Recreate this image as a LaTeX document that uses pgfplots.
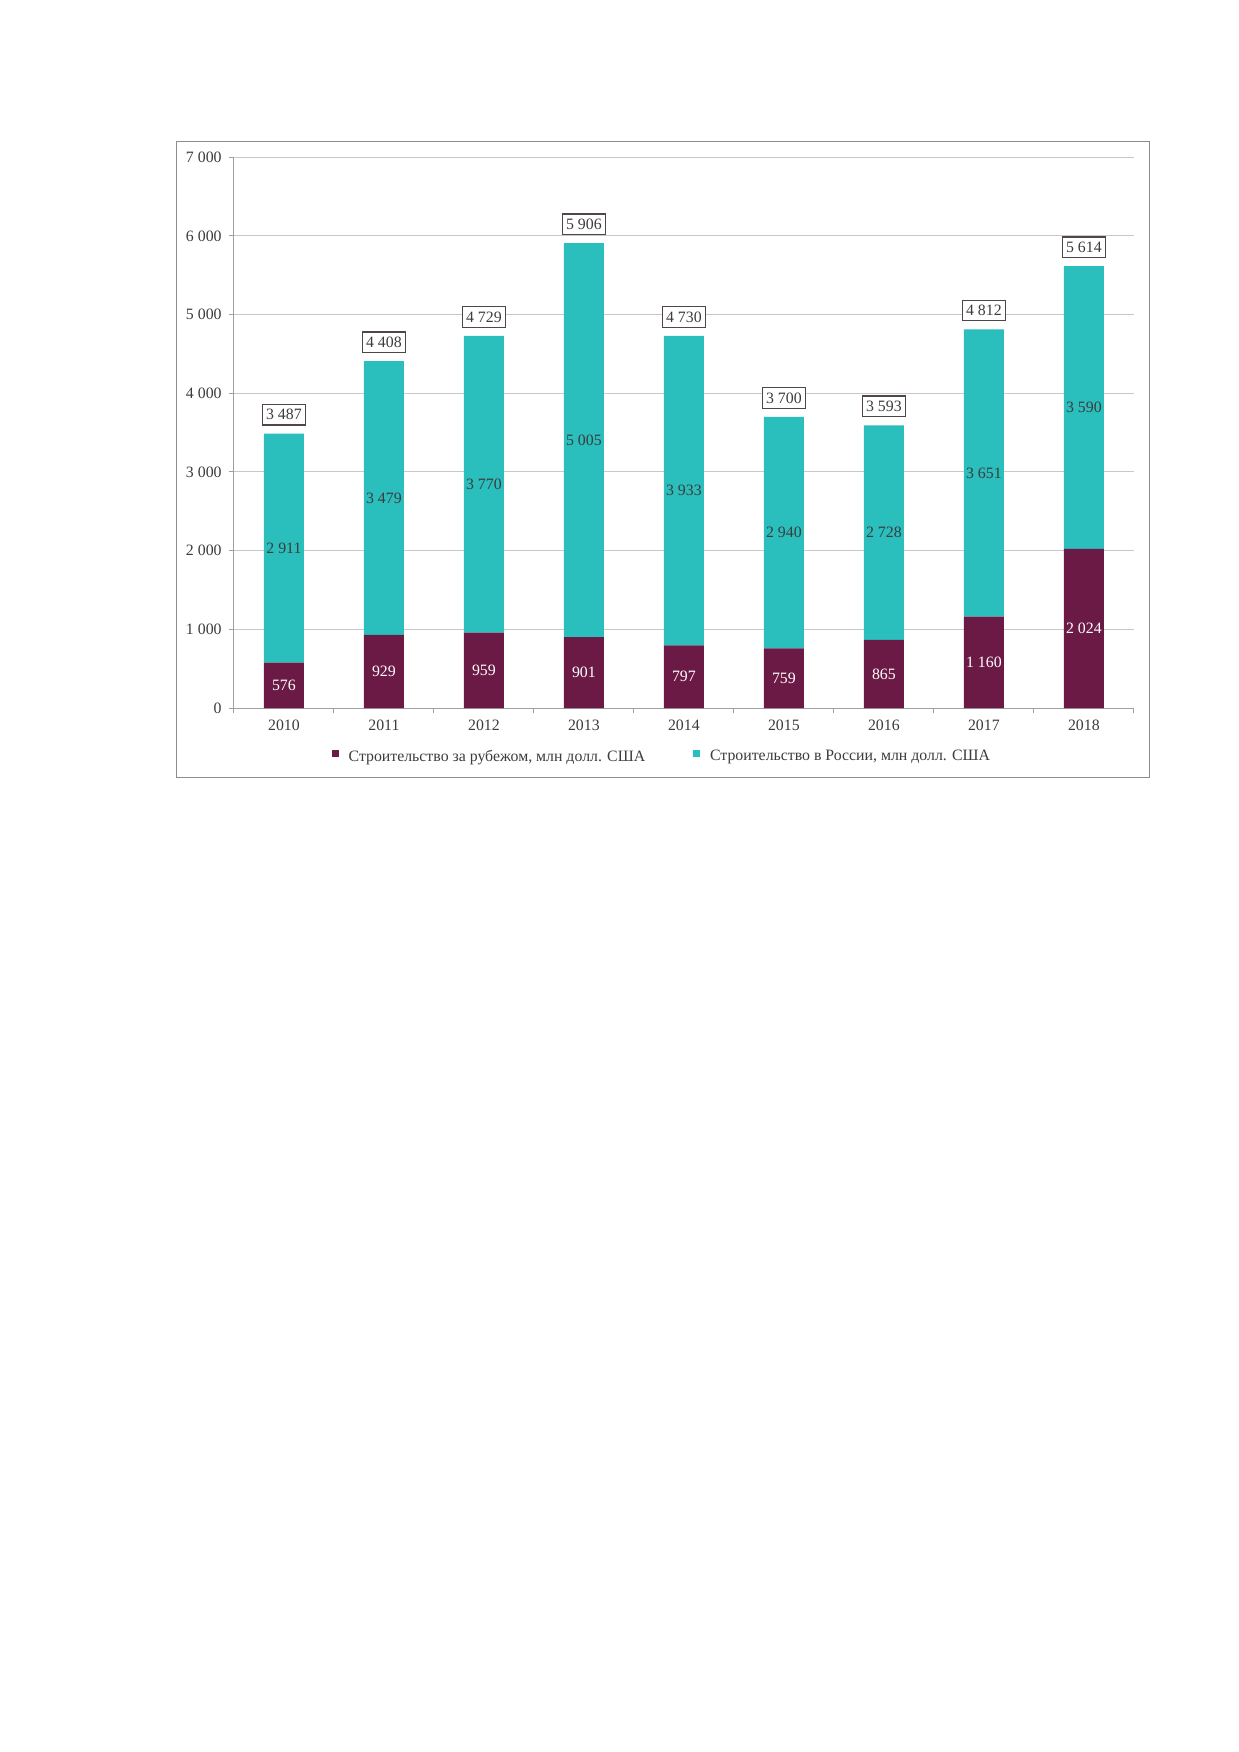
\documentclass[border=0pt]{standalone}
\usepackage{fontspec}
\setmainfont{Liberation Serif}
\usepackage{pgfplots}
\pgfplotsset{compat=1.18}
\usepackage{pgfplotstable}
\definecolor{cmaroon}{RGB}{107,26,69}
\definecolor{cteal}{RGB}{42,190,189}
\definecolor{axcol}{RGB}{160,160,160}
\definecolor{gridcol}{RGB}{200,200,200}
\definecolor{framecol}{RGB}{140,140,140}
\definecolor{boxcol}{RGB}{80,70,70}
\definecolor{txtcol}{RGB}{60,60,60}

\pgfplotstableread{
x abroad russia total
0 576 2911 3487
1 929 3479 4408
2 959 3770 4729
3 901 5005 5906
4 797 3933 4730
5 759 2940 3700
6 865 2728 3593
7 1160 3651 4812
8 2024 3590 5614
}\data

\pgfplotstableread{
x ymid v
0 288 576
1 464.5 929
2 479.5 959
3 450.5 901
4 398.5 797
5 379.5 759
6 432.5 865
7 580 1160
8 1012 2024
}\midA

\pgfplotstableread{
x ymid v
0 2031.5 2911
1 2668.5 3479
2 2844 3770
3 3403.5 5005
4 2763.5 3933
5 2229 2940
6 2229 2728
7 2985.5 3651
8 3819 3590
}\midB

\pgfplotsset{
  numfmt/.style={nodes near coords={\pgfmathprintnumber[fixed,precision=0,1000 sep={\ },assume math mode=true]{\pgfplotspointmeta}}},
  sqleg/.style={legend image code/.code={\fill[##1] (0pt,0pt) rectangle (3.4pt,3.4pt);}},
}

\begin{document}
\begin{tikzpicture}[font=\fontsize{7.6}{9.1}\selectfont]
\path[use as bounding box] (0,0) rectangle (595.3pt,841.8pt);
\fill[white] (0,0) rectangle (595.3pt,841.8pt);
\draw[framecol, line width=0.5pt] (85pt,468pt) rectangle (552.1pt,773.6pt);

\begin{axis}[
  at={(112.4pt,501.6pt)}, anchor=south west,
  scale only axis, width=432.4pt, height=264.7pt,
  ybar stacked, bar width=19.2pt,
  xmin=-0.5, xmax=8.5, ymin=0, ymax=7000,
  axis lines*=left,
  axis line style={draw=axcol, line width=0.5pt},
  ytick={0,1000,...,7000},
  ymajorgrids, grid style={draw=gridcol, line width=0.5pt},
  xtick={-0.5,0.5,...,8.5},
  x tick label as interval,
  xticklabels={2010,2011,2012,2013,2014,2015,2016,2017,2018},
  tick align=outside, major tick length=2.4pt,
  tick style={draw=axcol, line width=0.5pt},
  tick label style={text=txtcol},
  /pgf/number format/1000 sep={\ },
  /pgf/number format/assume math mode=true,
  legend columns=2,
  legend style={at={(0.4767,-0.0889)}, anchor=center, draw=none, fill=none,
    inner sep=0pt, text=txtcol,
    /tikz/every odd column/.style={column sep=2.8pt},
    /tikz/every even column/.style={column sep=21pt}},
  clip=false,
]
\addplot[fill=cmaroon, draw=none, sqleg] table[x=x, y=abroad] {\data};
\addlegendentry{Строительство за рубежом, млн долл. США}
\addplot[fill=cteal, draw=none, sqleg] table[x=x, y=russia] {\data};
\addlegendentry{Строительство в России, млн долл. США}
\end{axis}

\begin{axis}[
  at={(112.4pt,501.6pt)}, anchor=south west,
  scale only axis, width=432.4pt, height=264.7pt,
  xmin=-0.5, xmax=8.5, ymin=0, ymax=7000,
  hide axis, clip=false,
]
\addplot[draw=none, mark=none, numfmt, point meta=explicit,
  every node near coord/.append style={anchor=center, text=white, inner sep=0pt}]
  table[x=x, y=ymid, meta=v] {\midA};
\addplot[draw=none, mark=none, numfmt, point meta=explicit,
  every node near coord/.append style={anchor=center, text=txtcol, inner sep=0pt}]
  table[x=x, y=ymid, meta=v] {\midB};
\addplot[draw=none, mark=none, numfmt, point meta=explicit,
  every node near coord/.append style={anchor=south, yshift=3.8pt, draw=boxcol, fill=white,
    line width=0.6pt, inner xsep=1.8pt, inner ysep=2.4pt, text=txtcol}]
  table[x=x, y=total, meta=total] {\data};
\end{axis}
\end{tikzpicture}
\end{document}
